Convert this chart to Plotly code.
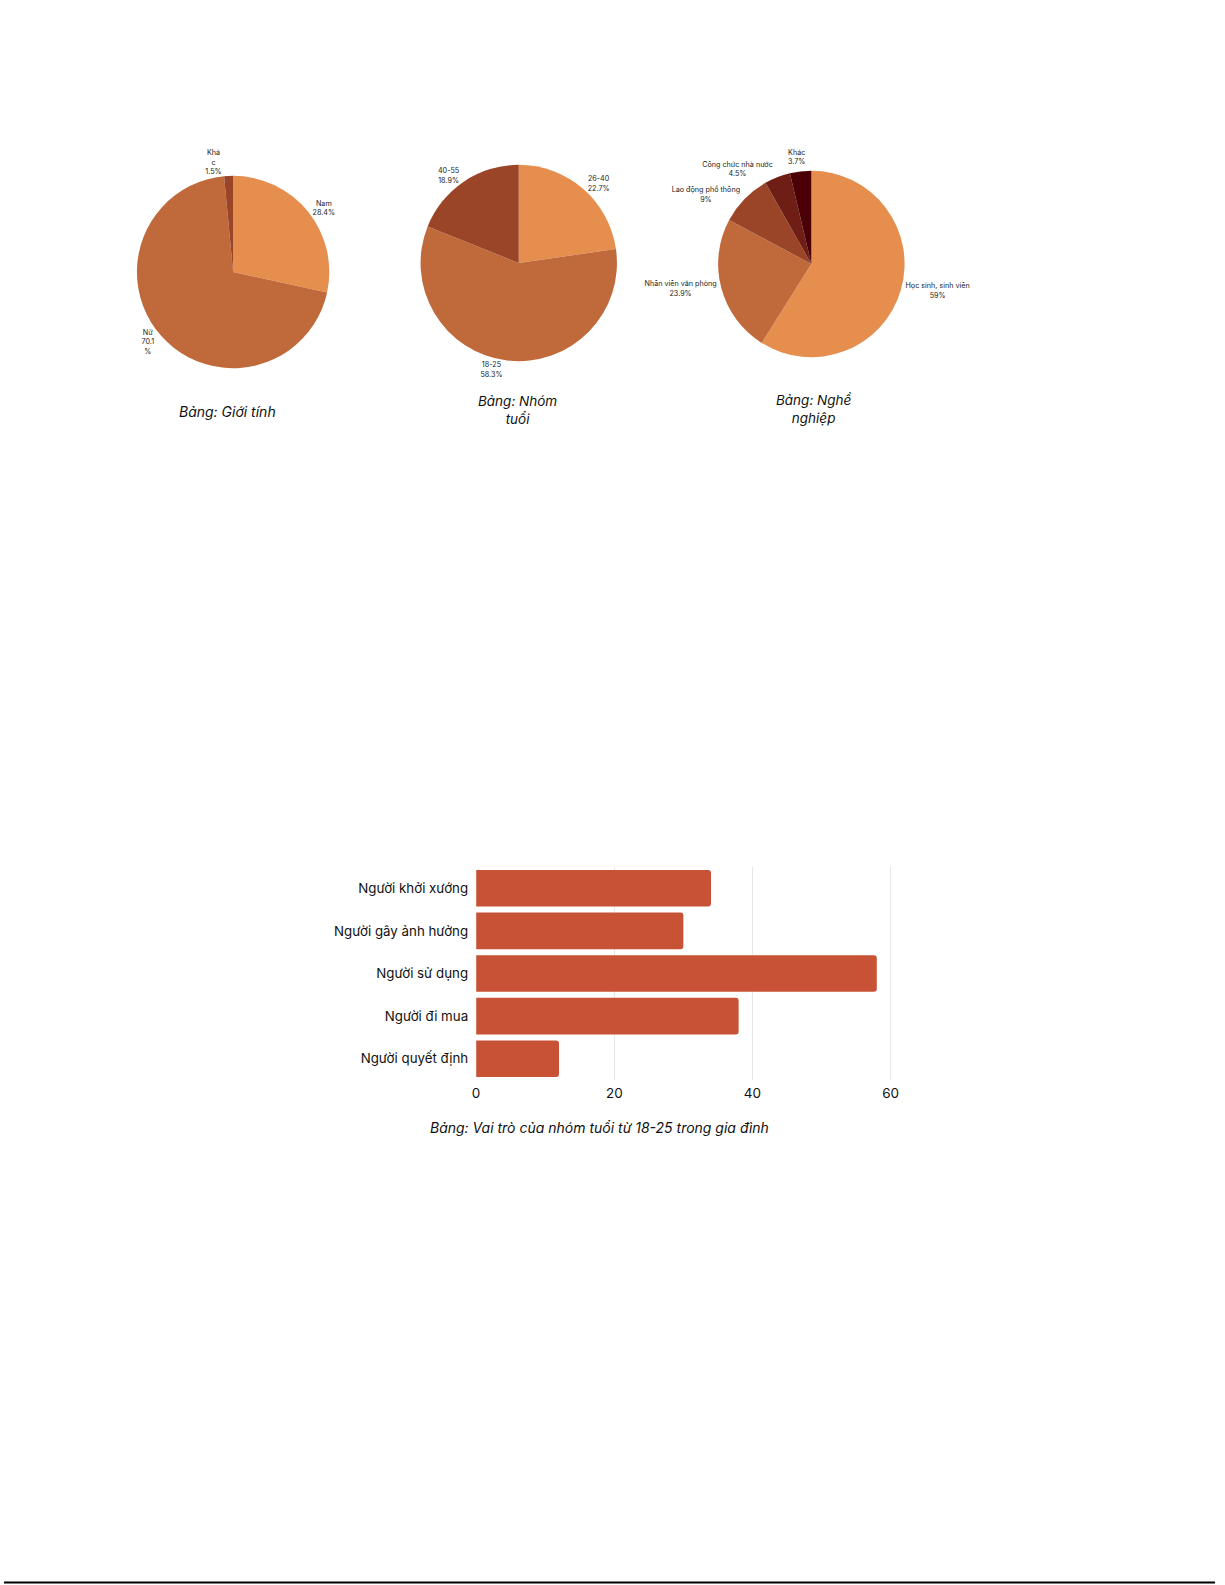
import plotly.graph_objects as go

W, H = 1225, 1585

# ---- data ----
gender_labels = ["Nam", "Nữ", "Khác"]
gender_text = ["Nam<br>28.4%", "Nữ<br>70.1<br>%", "Khá<br>c<br>1.5%"]
gender_values = [28.4, 70.1, 1.5]

age_labels = ["26-40", "18-25", "40-55"]
age_values = [22.7, 58.3, 18.9]

job_labels = ["Học sinh, sinh viên", "Nhân viên văn phòng", "Lao động phổ thông",
              "Công chức nhà nước", "Khác"]
job_values = [59, 23.9, 9, 4.5, 3.7]

role_labels = ["Người khởi xướng", "Người gây ảnh hưởng", "Người sử dụng",
               "Người đi mua", "Người quyết định"]
role_values = [34, 30, 58, 38, 12]
x_ticks = [0, 20, 40, 60]

pie_colors = ["#E68E4E", "#C0693B", "#9A4428", "#6E1E14", "#4A0005"]
bar_color = "#C75235"
FONT = "Inter"


def fx(px):
    return px / W


def fy(py):
    return 1 - py / H


def dom_x(c, r):
    return [fx(c - r), fx(c + r)]


def dom_y(c, r):
    return [fy(c + r), fy(c - r)]


fig = go.Figure()

common_pie = dict(
    sort=False, direction="clockwise", rotation=0,
    textposition="outside", textinfo="text",
    textfont=dict(family=FONT, size=7.2, color="#222"),
    outsidetextfont=dict(family=FONT, size=7.2, color="#222"),
    showlegend=False, hoverinfo="label+percent",
)

fig.add_trace(go.Pie(
    labels=gender_labels, values=gender_values, text=gender_text,
    marker=dict(colors=pie_colors[:3], line=dict(width=0)),
    domain=dict(x=dom_x(231, 97), y=dom_y(272, 97)),
    **common_pie,
))

fig.add_trace(go.Pie(
    labels=age_labels, values=age_values,
    text=[f"{l}<br>{v}%" for l, v in zip(age_labels, age_values)],
    marker=dict(colors=pie_colors[:3], line=dict(width=0)),
    domain=dict(x=dom_x(519, 99), y=dom_y(263, 99)),
    **common_pie,
))

job_text = [f"{l}<br>{v:g}%" for l, v in zip(job_labels, job_values)]
fig.add_trace(go.Pie(
    labels=job_labels, values=job_values,
    text=job_text[:-1] + [""],
    marker=dict(colors=pie_colors, line=dict(width=0)),
    domain=dict(x=dom_x(814, 94), y=dom_y(264, 94)),
    **common_pie,
))
# last job label placed directly (plotly would push it with a leader line)
fig.add_annotation(
    text=job_text[-1], x=fx(799), y=fy(157), xref="paper", yref="paper",
    showarrow=False, xanchor="center", yanchor="middle", align="center",
    font=dict(family=FONT, size=7.2, color="#222"),
)

fig.add_trace(go.Bar(
    y=role_labels, x=role_values, orientation="h",
    marker=dict(color=bar_color, line=dict(width=0), cornerradius=3),
    showlegend=False, xaxis="x", yaxis="y",
))

fig.update_layout(
    width=W, height=H,
    margin=dict(l=0, r=0, t=0, b=0),
    paper_bgcolor="white", plot_bgcolor="white",
    font=dict(family=FONT, color="#111"),
    bargap=0.14,
    xaxis=dict(
        domain=[fx(476), fx(896)], range=[0, 60.3],
        tickvals=x_ticks, showgrid=True, gridcolor="#E6E6E6", gridwidth=1,
        zeroline=False, showline=False, ticks="",
        ticklabelstandoff=3,
        tickfont=dict(family=FONT, size=13.5, color="#111"),
        anchor="y",
    ),
    yaxis=dict(
        domain=[fy(1080), fy(867)],
        categoryorder="array", categoryarray=role_labels, autorange="reversed",
        showgrid=False, zeroline=False, showline=False, ticks="",
        ticklabelstandoff=7,
        tickfont=dict(family=FONT, size=13.3, color="#111"),
        anchor="x",
    ),
)

titles = [
    ("Bảng: Giới tính", 225, 411, 14),
    ("Bảng: Nhóm<br>tuổi", 518, 410, 13.5),
    ("Bảng: Nghề<br>nghiệp", 817, 409, 13.5),
    ("Bảng: Vai trò của nhóm tuổi từ 18-25 trong gia đình", 600, 1127, 14),
]
for t, x, y, s in titles:
    fig.add_annotation(
        text=f"<i>{t}</i>", x=fx(x), y=fy(y), xref="paper", yref="paper",
        showarrow=False, xanchor="center", yanchor="middle",
        font=dict(family=FONT, size=s, color="#111"),
        align="center",
    )

fig.add_shape(type="line", xref="paper", yref="paper",
              x0=0, x1=fx(1221), y0=fy(1582.5), y1=fy(1582.5),
              line=dict(color="black", width=2))

fig.write_html(
    "out.html",
    config={"displayModeBar": False},
    post_script="document.body.style.margin='0';document.body.style.overflow='hidden';",
)
